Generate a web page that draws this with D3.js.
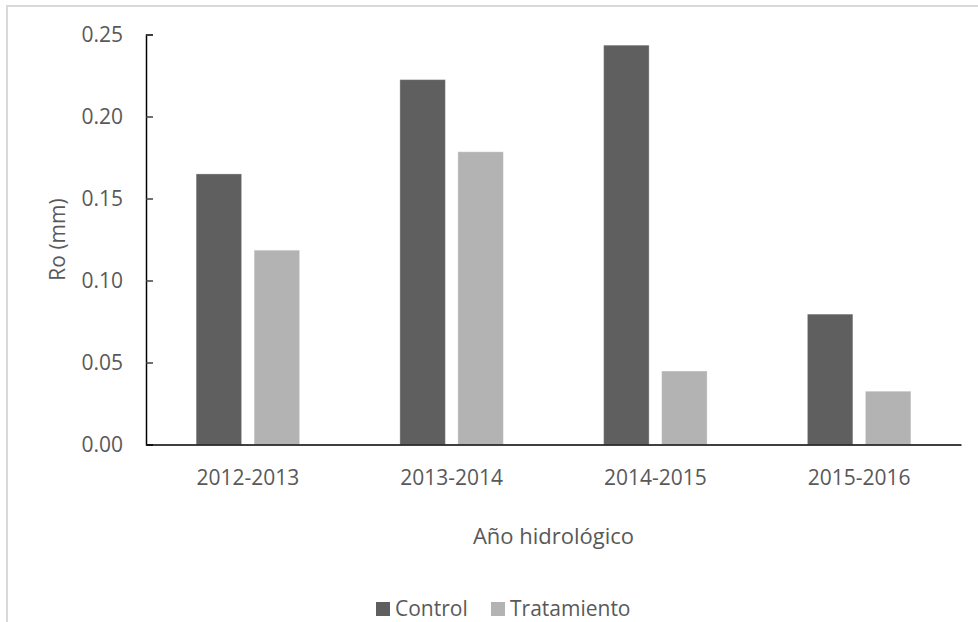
<!DOCTYPE html>
<html><head><meta charset="utf-8">
<script src="https://cdn.jsdelivr.net/npm/d3@7"></script>
<style>body{margin:0;background:#fff}svg{display:block}text{font-family:"Open Sans",sans-serif}</style>
</head><body>
<script>
const categories = ["2012-2013","2013-2014","2014-2015","2015-2016"];
const seriesNames = ["Control","Tratamiento"];
const control = [0.165, 0.2225, 0.2435, 0.0795];
const tratamiento = [0.1185, 0.1785, 0.0448, 0.0325];
const yTicks = [0, 0.05, 0.10, 0.15, 0.20, 0.25];
const colors = ["#5f5f5f","#b3b3b3"];

const W = 978, H = 622;
const svg = d3.select("body").append("svg").attr("width", W).attr("height", H);

// chart border
svg.append("rect").attr("x",7).attr("y",6).attr("width",1000).attr("height",700)
  .attr("fill","none").attr("stroke","#d9d9d9").attr("stroke-width",2);

const pLeft = 146, pRight = 961, pTop = 34.5, pBottom = 444.5;
const x = d3.scaleBand().domain(categories).range([pLeft, pRight]);
const y = d3.scaleLinear().domain([0, 0.25]).range([pBottom, pTop]);
const barW = 45.5, inner = 12.5;

const data = [];
categories.forEach((c,i)=>{
  data.push({c, s:0, v:control[i]});
  data.push({c, s:1, v:tratamiento[i]});
});

svg.append("g").selectAll("rect").data(data).join("rect")
  .attr("x", d => x(d.c) + x.bandwidth()/2 + (d.s===0 ? -inner/2 - barW : inner/2))
  .attr("y", d => y(d.v))
  .attr("width", barW)
  .attr("height", d => y(0) - y(d.v))
  .attr("fill", d => colors[d.s])
  .attr("stroke", "#fff").attr("stroke-opacity", 0.35).attr("stroke-width", 1);

// y axis
const yAxis = svg.append("g").attr("transform", `translate(${pLeft},0)`)
  .call(d3.axisRight(y).tickValues(yTicks).tickSize(7).tickFormat(d3.format(".2f")));
yAxis.select(".domain").attr("stroke","#000").attr("stroke-width",1.5);
yAxis.selectAll(".tick line").attr("stroke","#404040").attr("stroke-width",1.5);
yAxis.selectAll(".tick text").attr("x",-23).attr("text-anchor","end")
  .attr("fill","#595959").style("font-size","21px").attr("dy","0.35em");

// x axis
const xAxis = svg.append("g").attr("transform", `translate(0,${pBottom})`)
  .call(d3.axisBottom(x).tickSize(0));
xAxis.select(".domain").attr("stroke","#000").attr("stroke-width",1.5);
xAxis.selectAll(".tick text").attr("fill","#595959").style("font-size","21px").attr("dy","0.35em").attr("y",33);

// axis titles
svg.append("text").attr("transform","translate(58,239.5) rotate(-90)")
  .attr("text-anchor","middle").attr("dy","0.35em").attr("fill","#595959")
  .style("font-size","21px").text("Ro (mm)");
svg.append("text").attr("x",(pLeft+pRight)/2).attr("y",536).attr("dy","0.35em")
  .attr("text-anchor","middle").attr("fill","#595959").style("font-size","22px").text("Año hidrológico");

// legend
const lg = svg.append("g");
const legendItems = [{name:seriesNames[0], x:376},{name:seriesNames[1], x:491}];
legendItems.forEach((d,i)=>{
  lg.append("rect").attr("x",d.x).attr("y",602).attr("width",14).attr("height",14).attr("fill",colors[i]);
  lg.append("text").attr("x",d.x+19).attr("y",609).attr("dy","0.35em")
    .attr("fill","#595959").style("font-size","21px").text(d.name);
});
</script>
</body></html>
